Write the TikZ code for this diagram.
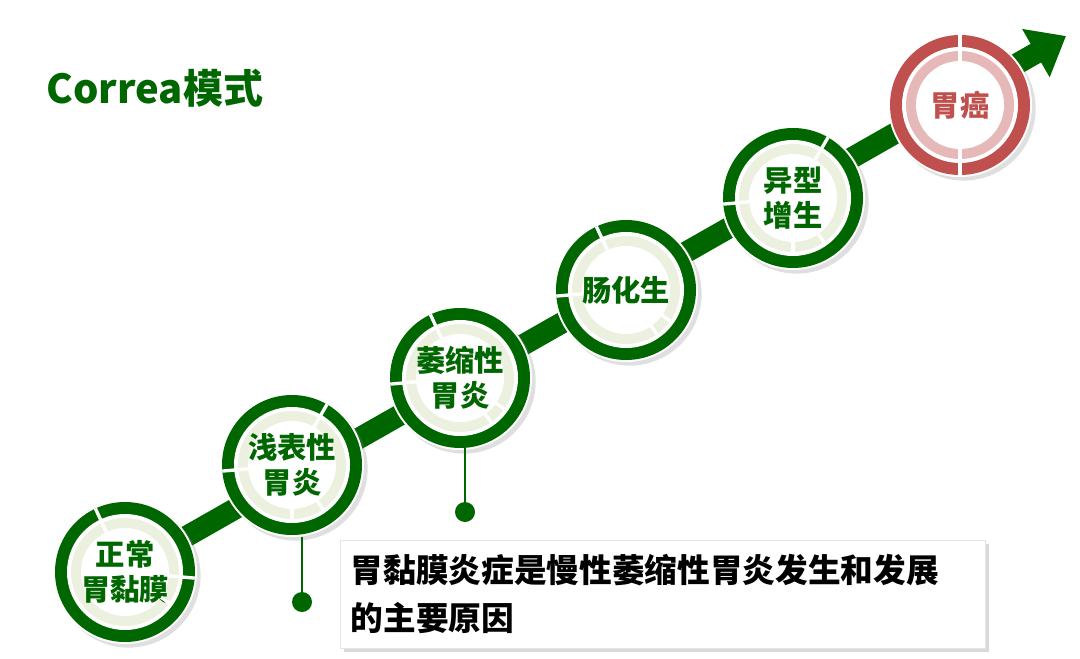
\documentclass[tikz,border=0pt]{standalone}
\usepackage{fontspec}
\setmainfont{Noto Sans CJK SC}
\newfontfamily\cjk{Noto Sans CJK SC}
\usetikzlibrary{arrows.meta,shadows}
\definecolor{dkgreen}{HTML}{006600}
\definecolor{ltgreen}{HTML}{EBF1DE}
\definecolor{dkred}{HTML}{C0504D}
\definecolor{ltred}{HTML}{E6B9B8}
\tikzset{
  band/.style={line width=16pt, -{Triangle[width=40pt,length=26pt]}},
  stagetext/.style={font=\cjk\bfseries\fontsize{22}{26}\selectfont, align=center},
  dotend/.style={circle, fill=dkgreen, inner sep=0pt, minimum size=15pt},
}
\begin{document}
\begin{tikzpicture}[x=0.75pt,y=-0.75pt]
  \useasboundingbox (0,0) rectangle (1080,659);
  % Titel
  \node[anchor=west, text=dkgreen, font=\cjk\bfseries\fontsize{30}{34}\selectfont] (title) at (42,88) {Correa模式};
  % Pfeil
  \coordinate (start) at (110,580);
  \coordinate (tip) at (1066,36);
  \draw[band, white, line width=20pt, -{Triangle[width=46pt,length=30pt]}] (start) -- (tip);
  \draw[band, dkgreen] (start) -- (tip);
  % Stufen
  \foreach \name/\x/\y/\txt/\outc/\inc/\tc in {
    s1/125/572/{正常\\胃黏膜}/dkgreen/ltgreen/dkgreen,
    s2/292/465/{浅表性\\胃炎}/dkgreen/ltgreen/dkgreen,
    s3/460/378/{萎缩性\\胃炎}/dkgreen/ltgreen/dkgreen,
    s4/626/290/{肠化生}/dkgreen/ltgreen/dkgreen,
    s5/793/198/{异型\\增生}/dkgreen/ltgreen/dkgreen,
    s6/960/105/{胃癌}/dkred/ltred/dkred}{
    \fill[white, drop shadow={opacity=0.25}] (\x,\y) circle (72);
    \fill[\outc] (\x,\y) circle (70);
    \fill[white] (\x,\y) circle (58);
    \fill[\inc] (\x,\y) circle (54);
    \fill[white] (\x,\y) circle (44);
    \node[stagetext, text=\tc] (\name) at (\x,\y) {\txt};
  }
  % Lücken in den Ringen
  \foreach \x/\y/\a/\b in {125/572/-115/5, 292/465/-60/175, 460/378/-115/175,
                           626/290/-115/175, 793/198/-60/175} {
    \draw[white, line width=2.5pt] (\x,\y) ++(\a:44) -- ++(\a:26);
    \draw[white, line width=2.5pt] (\x,\y) ++(\b:44) -- ++(\b:26);
    \draw[white, line width=2.5pt] (\x,\y) ++(\a+150:44) -- ++(\a+150:12);
    \draw[white, line width=2.5pt] (\x,\y) ++(\b-120:44) -- ++(\b-120:12);
  }
  \draw[white, line width=2.5pt] (960,105) ++(90:44) -- ++(90:26);
  \draw[white, line width=2.5pt] (960,105) ++(-90:44) -- ++(-90:26);
  % Hinweise
  \node[dotend] (d2) at (302,602) {};
  \node[dotend] (d3) at (465,512) {};
  \draw[dkgreen, line width=1.2pt] (302,537) -- (d2);
  \draw[dkgreen, line width=1.2pt] (465,447) -- (d3);
  \node[draw=black!10, fill=white, drop shadow={opacity=0.3}, minimum width=484pt, minimum height=81pt,
        anchor=north west] (note) at (340,540) {};
  \node[anchor=north west, align=left, font=\cjk\bfseries\fontsize{24.5}{36}\selectfont] (notetext) at (346,550)
    {胃黏膜炎症是慢性萎缩性胃炎发生和发展\\的主要原因};
\end{tikzpicture}
\end{document}
